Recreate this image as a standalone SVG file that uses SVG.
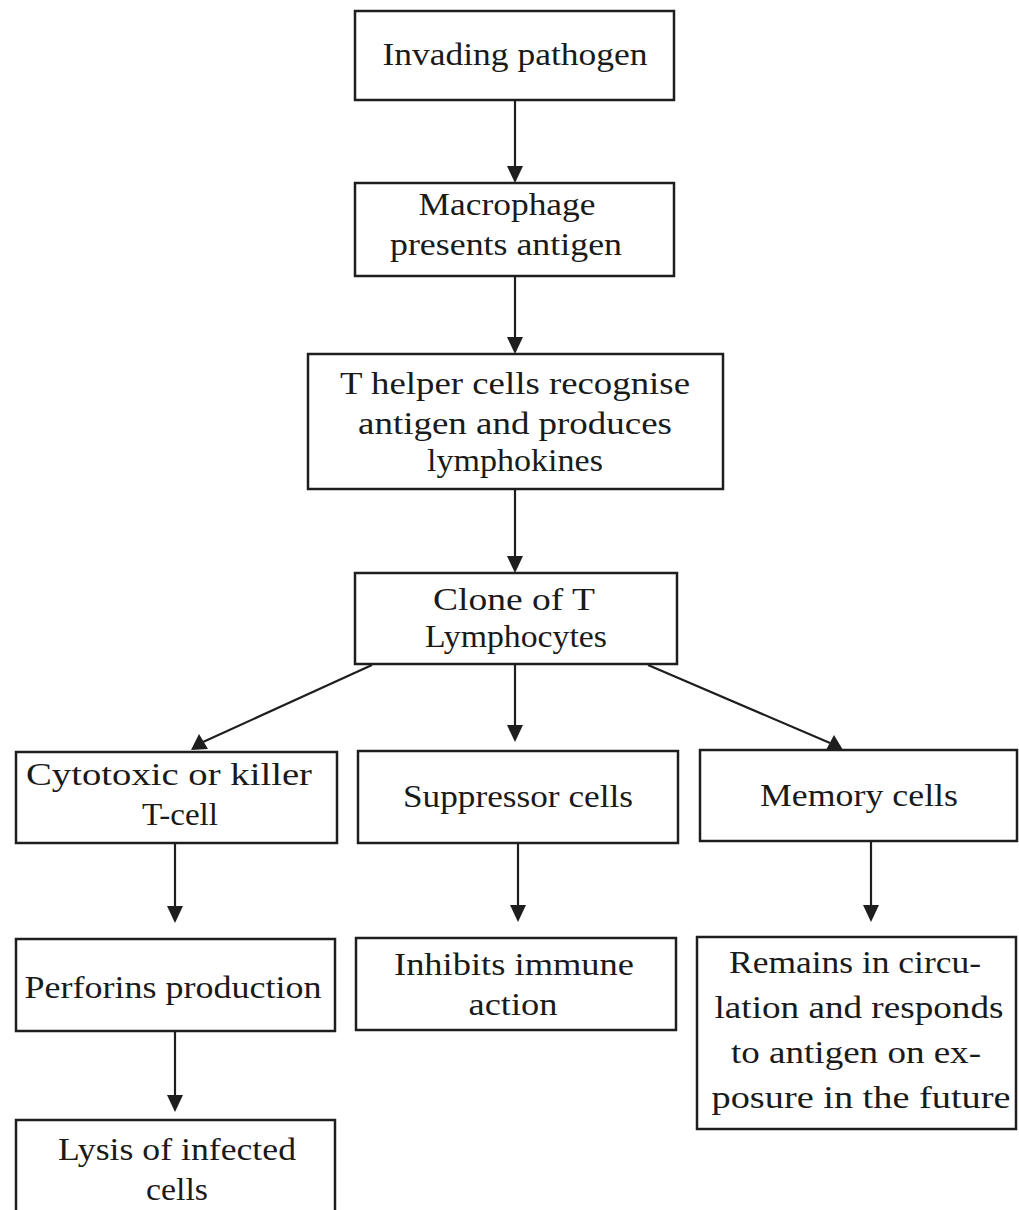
<svg xmlns="http://www.w3.org/2000/svg" width="1019" height="1210" viewBox="0 0 1019 1210">
<style>
.box{fill:#fff;stroke:#1e1e1e;stroke-width:2.5}
.t{font-family:"Liberation Serif","DejaVu Serif",serif;font-size:31px;fill:#1a1a1a;text-anchor:middle}
.c{stroke:#1e1e1e;stroke-width:2.2;fill:none}
.h{fill:#1e1e1e}
</style>
<rect width="1019" height="1210" fill="#fff"/>
<g id="connectors">
<line class="c" x1="515" y1="100" x2="515" y2="167"/>
<path class="h" d="M507,166 L523,166 L515,183 Z"/>
<line class="c" x1="515" y1="276" x2="515" y2="338"/>
<path class="h" d="M507,337 L523,337 L515,354 Z"/>
<line class="c" x1="515" y1="489" x2="515" y2="557"/>
<path class="h" d="M507,556 L523,556 L515,573 Z"/>
<line class="c" x1="372" y1="665" x2="203" y2="742"/>
<path class="h" d="M191,750 L199,734 L208,749 Z"/>
<line class="c" x1="515" y1="664" x2="515" y2="726"/>
<path class="h" d="M507,725 L523,725 L515,742 Z"/>
<line class="c" x1="648" y1="665" x2="830" y2="743"/>
<path class="h" d="M843,750 L826,750 L834,735 Z"/>
<line class="c" x1="175" y1="843" x2="175" y2="907"/>
<path class="h" d="M167,906 L183,906 L175,923 Z"/>
<line class="c" x1="518" y1="843" x2="518" y2="906"/>
<path class="h" d="M510,905 L526,905 L518,922 Z"/>
<line class="c" x1="871" y1="842" x2="871" y2="906"/>
<path class="h" d="M863,905 L879,905 L871,922 Z"/>
<line class="c" x1="175" y1="1031" x2="175" y2="1096"/>
<path class="h" d="M167,1095 L183,1095 L175,1112 Z"/>
</g>
<g id="n1"><rect class="box" x="355" y="11" width="319" height="89"/>
<text class="t" x="515" y="65" textLength="265" lengthAdjust="spacingAndGlyphs">Invading pathogen</text></g>
<g id="n2"><rect class="box" x="355" y="183" width="319" height="93"/>
<text class="t" x="507" y="215" textLength="177" lengthAdjust="spacingAndGlyphs">Macrophage</text>
<text class="t" x="506" y="255" textLength="232" lengthAdjust="spacingAndGlyphs">presents antigen</text></g>
<g id="n3"><rect class="box" x="308" y="354" width="415" height="135"/>
<text class="t" x="515" y="394" textLength="350" lengthAdjust="spacingAndGlyphs">T helper cells recognise</text>
<text class="t" x="515" y="434" textLength="314" lengthAdjust="spacingAndGlyphs">antigen and produces</text>
<text class="t" x="515" y="471" textLength="176" lengthAdjust="spacingAndGlyphs">lymphokines</text></g>
<g id="n4"><rect class="box" x="355" y="573" width="322" height="91"/>
<text class="t" x="514" y="610" textLength="162" lengthAdjust="spacingAndGlyphs">Clone of T</text>
<text class="t" x="516" y="647" textLength="182" lengthAdjust="spacingAndGlyphs">Lymphocytes</text></g>
<g id="n5"><rect class="box" x="16" y="752" width="321" height="91"/>
<text class="t" x="169" y="785" textLength="286" lengthAdjust="spacingAndGlyphs">Cytotoxic or killer</text>
<text class="t" x="180" y="825" textLength="76" lengthAdjust="spacingAndGlyphs">T-cell</text></g>
<g id="n6"><rect class="box" x="358" y="751" width="320" height="92"/>
<text class="t" x="518" y="807" textLength="230" lengthAdjust="spacingAndGlyphs">Suppressor cells</text></g>
<g id="n7"><rect class="box" x="700" y="750" width="317" height="91"/>
<text class="t" x="859" y="806" textLength="198" lengthAdjust="spacingAndGlyphs">Memory cells</text></g>
<g id="n8"><rect class="box" x="16" y="939" width="319" height="92"/>
<text class="t" x="173" y="998" textLength="297" lengthAdjust="spacingAndGlyphs">Perforins production</text></g>
<g id="n9"><rect class="box" x="356" y="938" width="320" height="92"/>
<text class="t" x="514" y="975" textLength="240" lengthAdjust="spacingAndGlyphs">Inhibits immune</text>
<text class="t" x="513" y="1015" textLength="89" lengthAdjust="spacingAndGlyphs">action</text></g>
<g id="n10"><rect class="box" x="697" y="937" width="319" height="192"/>
<text class="t" x="855" y="973" textLength="252" lengthAdjust="spacingAndGlyphs">Remains in circu-</text>
<text class="t" x="859" y="1018" textLength="289" lengthAdjust="spacingAndGlyphs">lation and responds</text>
<text class="t" x="856" y="1063" textLength="250" lengthAdjust="spacingAndGlyphs">to antigen on ex-</text>
<text class="t" x="861" y="1108" textLength="299" lengthAdjust="spacingAndGlyphs">posure in the future</text></g>
<g id="n11"><rect class="box" x="16" y="1120" width="319" height="100"/>
<text class="t" x="177" y="1160" textLength="238" lengthAdjust="spacingAndGlyphs">Lysis of infected</text>
<text class="t" x="177" y="1200" textLength="62" lengthAdjust="spacingAndGlyphs">cells</text></g>
</svg>
